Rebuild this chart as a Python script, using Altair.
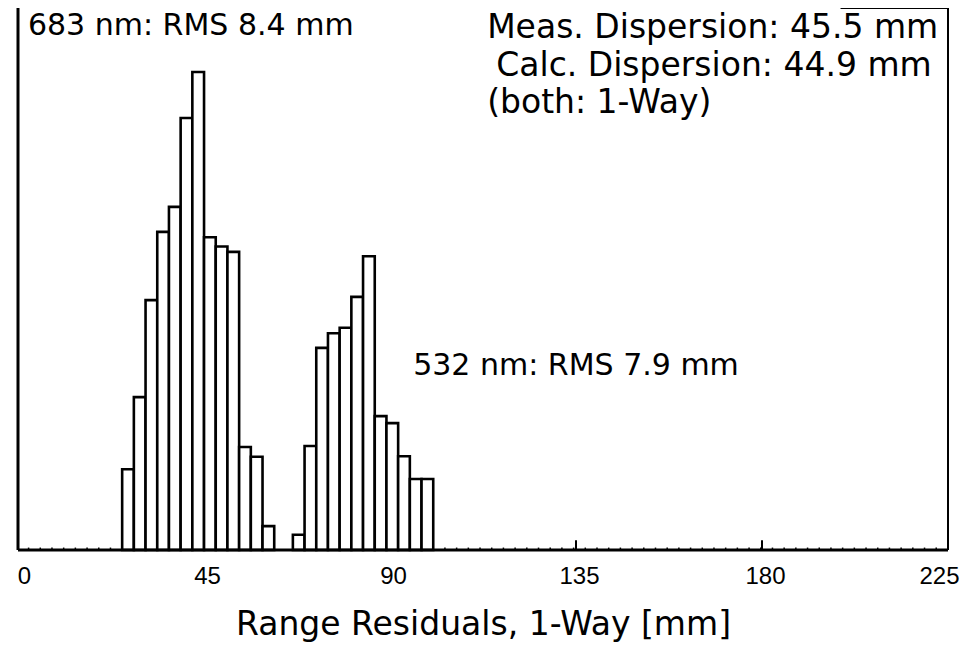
import altair as alt
import pandas as pd

# ---- data (relative counts, arbitrary units) ----
bin_width = 2.83
start_683 = 25.2
counts_683 = [14.9, 28.2, 46.1, 58.7, 63.3, 79.7, 88.2, 57.7, 56.0, 55.0, 19.0, 17.2, 4.4]
start_532 = 66.5
counts_532 = [2.8, 19.2, 37.3, 40.0, 41.0, 46.7, 54.2, 24.7, 23.4, 17.3, 13.1, 13.1]
tick_values = [0, 45, 90, 135, 180, 225]
major_marks = [135, 180]
x_title = "Range Residuals, 1-Way [mm]"

ann_text = ["683 nm: RMS 8.4 mm", "Meas. Dispersion: 45.5 mm",
            "Calc. Dispersion: 44.9 mm", "(both: 1-Way)", "532 nm: RMS 7.9 mm"]
ann_x = [2.4, 113.5, 115.7, 113.5, 95.6]
ann_y = [96.6, 96.3, 89.3, 82.5, 33.9]
ann_size = [30, 33, 33, 33, 30]

# ---- tables ----
rows = []
for name, start, counts in [("683 nm", start_683, counts_683), ("532 nm", start_532, counts_532)]:
    for i, c in enumerate(counts):
        x0 = start + i * bin_width
        rows.append({"series": name, "x0": x0, "x1": x0 + bin_width, "count": c})
bars_df = pd.DataFrame(rows)

# empty bins along the baseline (small bumps)
end_532 = start_532 + len(counts_532) * bin_width
bumps = []
p = start_683 - bin_width
while p > 0:
    bumps.append(p)
    p -= bin_width
p = end_532
while p < 224:
    bumps.append(p)
    p += bin_width
bump_df = pd.DataFrame({"x": bumps, "y0": 0.0, "y1": 0.45})
mark_df = pd.DataFrame({"x": major_marks, "y0": 0.0, "y1": 1.8})
ann_df = pd.DataFrame({"text": ann_text, "x": ann_x, "y": ann_y, "size": ann_size})

# frame pieces (left, right, bottom, short top piece at the right)
frame_df = pd.DataFrame({
    "x0": [0, 225, 0, 199],
    "x1": [0, 225, 225, 225],
    "y0": [0, 0, 0, 100],
    "y1": [100, 100, 0, 100],
    "w": [3.0, 2.0, 3.0, 2.0],
})

xscale = alt.Scale(domain=[0, 225], nice=False, zero=False)
yscale = alt.Scale(domain=[0, 100], nice=False)

label_offset = {"condition": [{"test": "datum.value == 0", "value": 6},
                              {"test": "datum.value == 225", "value": -9}],
                "value": 3}

xaxis = alt.Axis(values=tick_values, title=x_title, ticks=False, domain=False, grid=False,
                 labelFlush=False, labelPadding=14, labelFontSize=24,
                 labelFont="Liberation Sans", labelColor="black",
                 titleFont="DejaVu Sans", titleFontSize=33,
                 titleFontWeight="normal", titleColor="black", titlePadding=20,
                 labelOffset=label_offset)

bars = alt.Chart(bars_df).mark_rect(fill="white", stroke="black", strokeWidth=2.6).encode(
    x=alt.X("x0:Q", scale=xscale, axis=xaxis),
    x2="x1:Q",
    y=alt.Y("count:Q", scale=yscale, axis=None),
    y2=alt.datum(0),
)

bump_rules = alt.Chart(bump_df).mark_rule(color="black", strokeWidth=1.5).encode(
    x=alt.X("x:Q", scale=xscale), y=alt.Y("y0:Q", scale=yscale), y2="y1:Q")

major_rules = alt.Chart(mark_df).mark_rule(color="black", strokeWidth=2).encode(
    x=alt.X("x:Q", scale=xscale), y=alt.Y("y0:Q", scale=yscale), y2="y1:Q")

frame = alt.Chart(frame_df).mark_rule(color="black").encode(
    x=alt.X("x0:Q", scale=xscale), x2="x1:Q",
    y=alt.Y("y0:Q", scale=yscale), y2="y1:Q",
    strokeWidth=alt.StrokeWidth("w:Q", scale=None, legend=None))

texts = alt.Chart(ann_df).mark_text(align="left", baseline="middle", font="DejaVu Sans",
                                    color="black").encode(
    x=alt.X("x:Q", scale=xscale), y=alt.Y("y:Q", scale=yscale), text="text:N",
    size=alt.Size("size:Q", scale=None, legend=None))

chart = alt.layer(bars, bump_rules, major_rules, frame, texts).properties(
    width=930, height=542,
    autosize=alt.AutoSizeParams(type="none"),
    padding={"left": 10, "top": 0, "right": 13, "bottom": 96},
    background="white",
).configure_view(stroke=None)

chart.save("out.html", embed_options={"renderer": "svg", "actions": False})
